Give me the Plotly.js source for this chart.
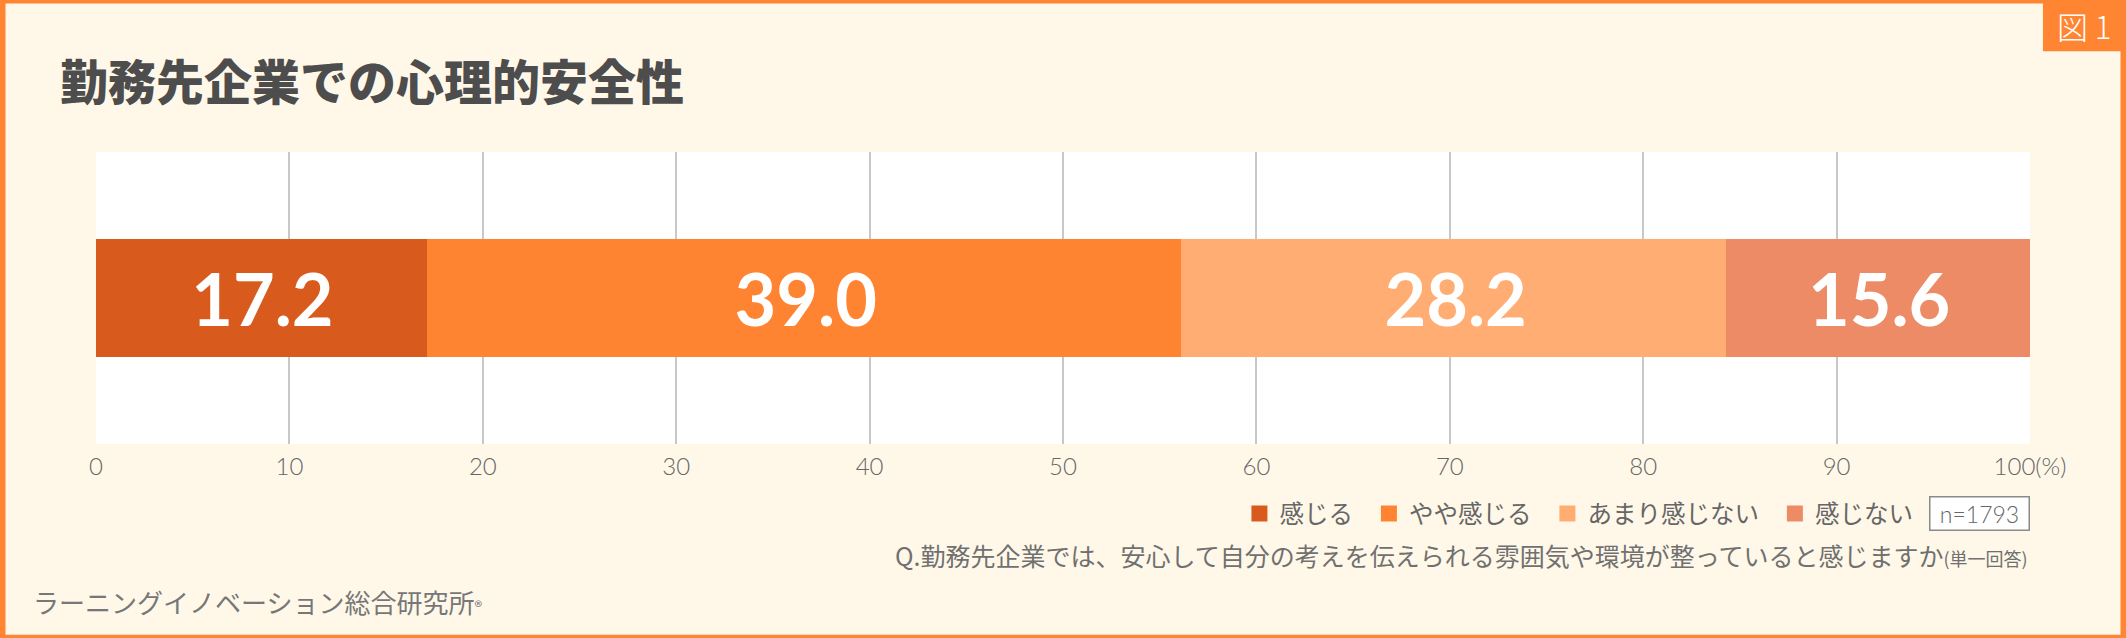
<!DOCTYPE html>
<html>
<head>
<meta charset="utf-8">
<script src="https://cdn.plot.ly/plotly-3.0.1.min.js"></script>
<style>
  html, body { margin: 0; padding: 0; background: #FFF8E9; }
  #chart { width: 2126px; height: 638px; }
</style>
</head>
<body>
<div id="chart"></div>
<script>
// answers, share of respondents (%)
var categories = ['感じる', 'やや感じる', 'あまり感じない', '感じない'];
var values = [17.2, 39.0, 28.2, 15.6];
var tickVals = [0, 10, 20, 30, 40, 50, 60, 70, 80, 90, 100];
var tickText = ['0', '10', '20', '30', '40', '50', '60', '70', '80', '90', '100(%)'];
var sampleSize = 1793;

var barColors = ['#D95A1D', '#FF8432', '#FFAD73', '#EC8B66'];
var jp = '"Noto Sans CJK JP", "Noto Sans", sans-serif';

var data = categories.map(function (name, i) {
  return {
    type: 'bar',
    orientation: 'h',
    // two nbsp so the legend entries sit as far apart as in the original
    name: name + '\u00A0\u00A0',
    y: ['勤務先企業'],
    x: [values[i]],
    width: 0.393,
    // outline in the fill colour, mainly to get a bigger legend square
    marker: { color: barColors[i], line: { color: barColors[i], width: 4 } },
    texttemplate: '%{x:.1f}',
    textposition: 'inside',
    insidetextanchor: 'middle',
    textangle: 0,
    textfont: { family: 'Lato, sans-serif', size: 72, color: '#FFFFFF', weight: 700 },
    hoverinfo: 'name+x'
  };
});

var layout = {
  width: 2126,
  height: 638,
  margin: { l: 96, r: 96, t: 152, b: 194 },
  paper_bgcolor: '#FFF8E9',
  plot_bgcolor: '#FFFFFF',
  barmode: 'stack',
  title: {
    text: '勤務先企業での心理的安全性',
    font: { family: jp, size: 48, color: '#4D4D4D', weight: 900 },
    xref: 'container', yref: 'container',
    x: 0.0282, xanchor: 'left',
    y: 0.869, yanchor: 'middle'
  },
  xaxis: {
    range: [0, 100],
    tickvals: tickVals,
    ticktext: tickText,
    showgrid: true,
    gridcolor: '#C8C8C8',
    gridwidth: 2,
    zeroline: false,
    showline: false,
    ticks: '',
    ticklabelstandoff: 6,
    tickfont: { family: 'Lato, sans-serif', size: 24, color: '#666666', weight: 300 },
    fixedrange: true
  },
  yaxis: {
    range: [-0.5, 0.5],
    visible: false,
    fixedrange: true
  },
  showlegend: true,
  legend: {
    orientation: 'h',
    traceorder: 'normal',
    x: 0.948, xanchor: 'right',
    y: -0.238, yanchor: 'middle',
    bgcolor: 'rgba(0,0,0,0)',
    font: { family: jp, size: 24.5, color: '#666666' }
  },
  shapes: [
    // orange frame round the whole card
    {
      type: 'rect', xref: 'paper', yref: 'paper',
      x0: -96 / 1934, x1: 2030 / 1934, y0: -195 / 290, y1: 443 / 290,
      line: { color: '#FF8533', width: 11 },
      fillcolor: 'rgba(0,0,0,0)'
    },
    // tab for the figure number
    {
      type: 'rect', xref: 'paper', yref: 'paper',
      x0: 1.0067, x1: 1.06, y0: 1.345, y1: 1.6,
      line: { width: 0 },
      fillcolor: '#FF8533'
    }
  ],
  annotations: [
    {
      text: '図 1', xref: 'paper', yref: 'paper',
      x: 1.0277, y: 1.434, xanchor: 'center', yanchor: 'middle',
      showarrow: false,
      font: { family: jp, size: 31, color: '#FFFFFF', weight: 300 }
    },
    {
      text: 'n=' + sampleSize, xref: 'paper', yref: 'paper',
      x: 1, y: -0.238, xanchor: 'right', yanchor: 'middle',
      showarrow: false,
      width: 96, height: 30,
      bgcolor: '#FFFFFF', bordercolor: '#8A8A8A', borderwidth: 1.5,
      font: { family: 'Lato, sans-serif', size: 23, color: '#666666', weight: 300 }
    },
    {
      text: 'Q.勤務先企業では、安心して自分の考えを伝えられる雰囲気や環境が整っていると感じますか<span style="font-size:18px">(単一回答)</span>',
      xref: 'paper', yref: 'paper',
      x: 1, y: -0.379, xanchor: 'right', yanchor: 'middle',
      showarrow: false,
      font: { family: jp, size: 25, color: '#707070' }
    },
    {
      text: 'ラーニングイノベーション総合研究所<span style="font-size:16px">®</span>',
      xref: 'paper', yref: 'paper',
      x: -0.0336, y: -0.541, xanchor: 'left', yanchor: 'middle',
      showarrow: false,
      font: { family: jp, size: 26, color: '#777777' }
    }
  ]
};

Plotly.newPlot('chart', data, layout, { staticPlot: true, displayModeBar: false });
</script>
</body>
</html>
